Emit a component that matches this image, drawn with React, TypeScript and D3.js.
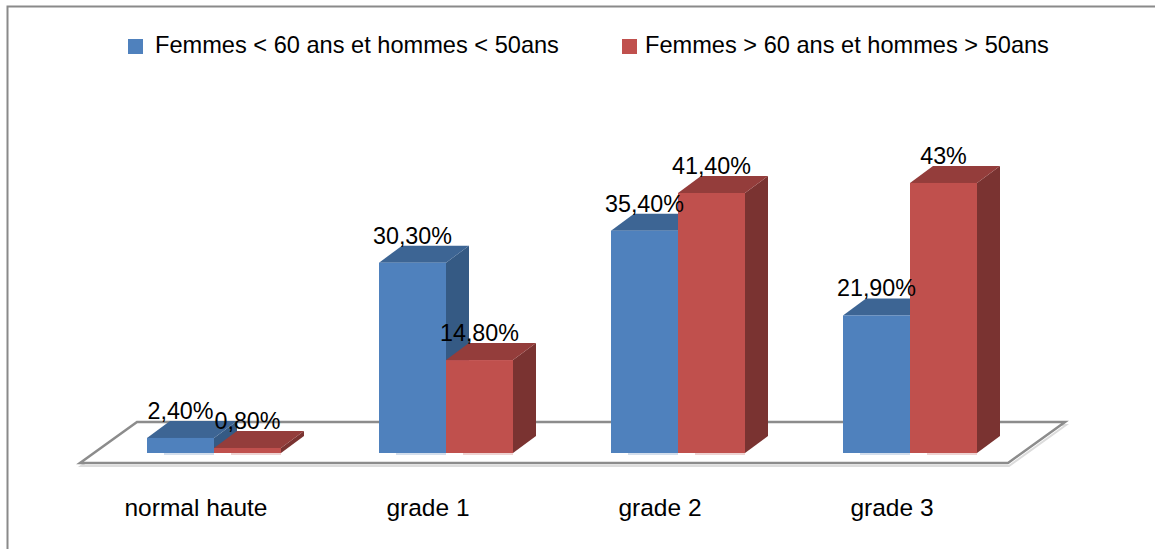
import React from "react";
import * as d3 from "d3";

const categories = ["normal haute", "grade 1", "grade 2", "grade 3"];
const seriesNames = [
  "Femmes < 60 ans et hommes < 50ans",
  "Femmes > 60 ans et hommes > 50ans",
];
const seriesYoung = [2.4, 30.3, 35.4, 21.9];
const seriesOld = [0.8, 14.8, 41.4, 43];
const valueLabelsYoung = ["2,40%", "30,30%", "35,40%", "21,90%"];
const valueLabelsOld = ["0,80%", "14,80%", "41,40%", "43%"];

const W = 1155;
const H = 549;
const FONT = "'Liberation Sans', Arial, sans-serif";
const FS = 23.3;
const FS_LEGEND = 23.6;
const FS_CAT = 24.5;

const palettes = [
  { front: "#4F81BD", top: "#3D6594", side: "#355A84", glow: "#D3DEEC" },
  { front: "#C0504D", top: "#943D3B", side: "#7A3331", glow: "#EED3D2" },
];

export default function App() {
  const x0 = d3.scaleBand<string>().domain(categories).range([98, 1026]);
  const groupW = 134;
  const x1 = d3.scaleBand<number>().domain([0, 1]).range([0, groupW]);
  const yBase = 453;
  const y = d3.scaleLinear().domain([0, 43]).range([yBase, yBase - 43 * 6.28]);
  const dx = 23;
  const dy = -17;
  const floorFrontY = 463;
  const floorDx = 57;
  const floorDy = -41;
  const floorShift = 18;

  const data = [seriesYoung, seriesOld];
  const labels = [valueLabelsYoung, valueLabelsOld];

  const fl = (x0.range()[0] as number) - floorShift;
  const fr = (x0.range()[1] as number) - floorShift;
  const floorPts: [number, number][] = [
    [fl, floorFrontY],
    [fr, floorFrontY],
    [fr + floorDx, floorFrontY + floorDy],
    [fl + floorDx, floorFrontY + floorDy],
  ];
  const line = d3.line();
  const floorPath = line(floorPts) + "Z";
  const floorShadow = line(floorPts.map(([a, b]) => [a + 1, b + 3])) + "Z";

  const bars: React.ReactNode[] = [];
  const texts: React.ReactNode[] = [];
  categories.forEach((c, ci) => {
    const gx = (x0(c) as number) + (x0.bandwidth() - groupW) / 2;
    [0, 1].forEach((si) => {
      const v = data[si][ci];
      const bx = gx + (x1(si) as number);
      const bw = x1.bandwidth();
      const top = y(v);
      const p = palettes[si];
      bars.push(
        <g key={`b${ci}-${si}`}>
          <polygon
            points={`${bx + bw},${top} ${bx + bw + dx},${top + dy} ${bx + bw + dx},${yBase + dy} ${bx + bw},${yBase}`}
            fill={p.side}
          />
          <polygon
            points={`${bx},${top} ${bx + dx},${top + dy} ${bx + bw + dx},${top + dy} ${bx + bw},${top}`}
            fill={p.top}
          />
          <rect x={bx} y={top} width={bw} height={yBase - top} fill={p.front} />
          <line x1={bx + 17} x2={bx + bw} y1={yBase + 1} y2={yBase + 1} stroke={p.glow} strokeWidth={2} />
        </g>
      );
      texts.push(
        <text
          key={`t${ci}-${si}`}
          x={bx + bw / 2}
          y={top - 19}
          textAnchor="middle"
          fontFamily={FONT}
          fontSize={FS}
          fill="#000"
        >
          {labels[si][ci]}
        </text>
      );
    });
  });

  const legendItems = [
    { sx: 128, tx: 155 },
    { sx: 622, tx: 645 },
  ];

  return (
    <svg
      width={W}
      height={H}
      style={{ position: "absolute", left: 0, top: 0, background: "#fff" }}
    >
      <rect x={0} y={0} width={W} height={H} fill="#fff" />
      <path d={`M7.5,${H} V6.5 H${W}`} fill="none" stroke="#8A8A8A" strokeWidth={2} />
      <path d={floorShadow} fill="none" stroke="#DCDCDC" strokeWidth={2} />
      <path d={floorPath} fill="#fff" stroke="#8C8C8C" strokeWidth={2.5} />
      {bars}
      {texts}
      {categories.map((c) => (
        <text
          key={c}
          x={(x0(c) as number) + x0.bandwidth() / 2 - floorShift}
          y={516}
          textAnchor="middle"
          fontFamily={FONT}
          fontSize={FS_CAT}
          fill="#000"
        >
          {c}
        </text>
      ))}
      {seriesNames.map((s, i) => (
        <g key={s}>
          <rect x={legendItems[i].sx} y={39} width={15} height={15} fill={palettes[i].front} />
          <text x={legendItems[i].tx} y={53} fontFamily={FONT} fontSize={FS_LEGEND} fill="#000">
            {s}
          </text>
        </g>
      ))}
    </svg>
  );
}
